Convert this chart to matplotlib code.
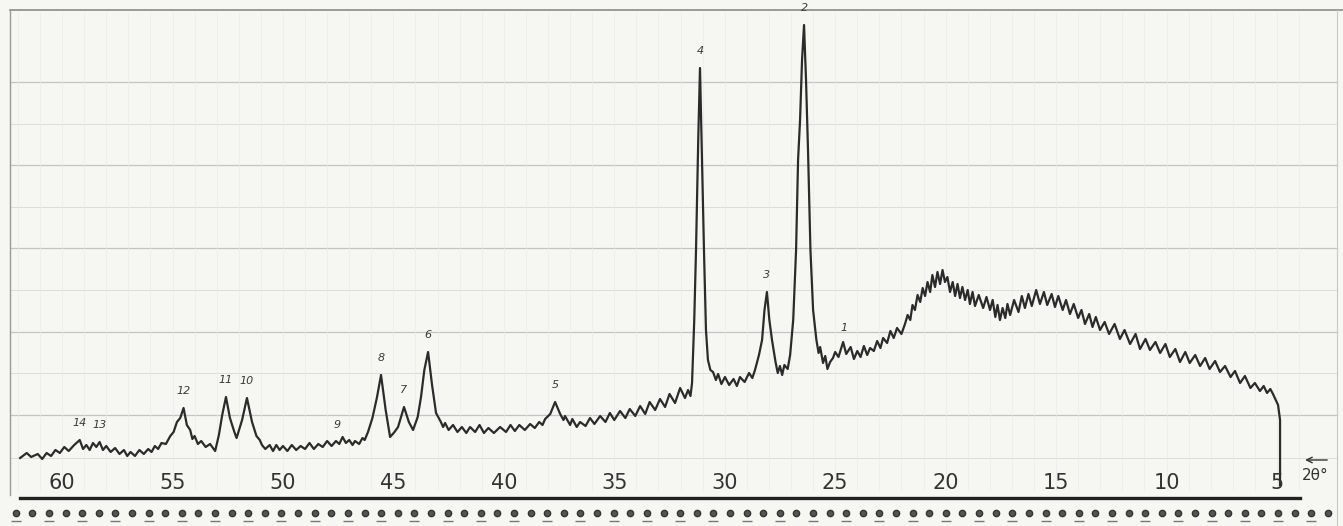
import numpy as np
import matplotlib.pyplot as plt

# diffractogram trace: (2theta in degrees, intensity in arbitrary units)
trace = [
    (61.9, 22), (61.6, 27), (61.4, 23), (61.1, 26), (60.9, 21), (60.7, 27), (60.5, 24),
    (60.3, 30), (60.1, 27), (59.9, 33), (59.7, 29), (59.45, 35), (59.2, 40), (59.05, 31),
    (58.9, 35), (58.75, 30), (58.6, 37), (58.45, 33), (58.3, 38), (58.15, 30), (58.0, 34),
    (57.8, 28), (57.6, 32), (57.4, 26), (57.2, 30), (57.05, 24), (56.9, 28), (56.7, 24),
    (56.5, 30), (56.3, 26), (56.1, 31), (55.95, 28), (55.8, 34), (55.65, 31), (55.5, 37),
    (55.3, 36), (55.1, 44), (54.95, 48), (54.8, 58), (54.65, 62), (54.5, 72), (54.35, 55),
    (54.2, 50), (54.1, 41), (54.0, 44), (53.85, 36), (53.7, 39), (53.5, 33), (53.3, 36),
    (53.07, 29), (52.9, 45), (52.75, 65), (52.58, 83), (52.4, 62), (52.2, 48), (52.1, 42),
    (52.03, 47), (51.85, 60), (51.63, 82), (51.4, 58), (51.2, 44), (51.05, 40), (50.95, 35),
    (50.8, 31), (50.6, 35), (50.45, 29), (50.3, 35), (50.15, 30), (50.0, 34), (49.8, 29),
    (49.6, 35), (49.4, 30), (49.2, 34), (49.0, 31), (48.8, 37), (48.6, 31), (48.4, 36),
    (48.2, 33), (48.0, 39), (47.8, 34), (47.6, 39), (47.45, 36), (47.3, 43), (47.15, 37),
    (47.0, 40), (46.85, 35), (46.74, 39), (46.55, 36), (46.4, 42), (46.3, 40), (46.15, 48),
    (45.95, 62), (45.75, 82), (45.56, 105), (45.35, 70), (45.15, 43), (44.95, 48),
    (44.79, 53), (44.52, 73), (44.3, 58), (44.11, 50), (43.9, 63), (43.75, 83), (43.6, 110),
    (43.43, 128), (43.25, 95), (43.07, 67), (42.85, 58), (42.75, 53), (42.66, 57),
    (42.5, 50), (42.3, 55), (42.1, 48), (41.9, 53), (41.7, 47), (41.53, 53), (41.3, 48),
    (41.1, 55), (40.9, 47), (40.7, 52), (40.45, 47), (40.17, 53), (39.9, 48), (39.7, 55),
    (39.5, 49), (39.3, 55), (39.05, 50), (38.81, 56), (38.6, 52), (38.4, 58), (38.25, 55),
    (38.13, 61), (37.9, 66), (37.68, 78), (37.45, 66), (37.3, 60), (37.23, 64), (37.0, 55),
    (36.9, 61), (36.7, 53), (36.55, 58), (36.3, 54), (36.1, 62), (35.9, 56), (35.64, 64),
    (35.4, 58), (35.2, 67), (35.0, 60), (34.74, 69), (34.5, 62), (34.3, 71), (34.05, 64),
    (33.83, 74), (33.6, 66), (33.4, 78), (33.15, 70), (32.93, 81), (32.7, 73), (32.5, 86),
    (32.25, 77), (32.02, 92), (31.8, 82), (31.66, 90), (31.55, 84), (31.48, 97),
    (31.38, 160), (31.3, 230), (31.2, 340), (31.12, 412), (31.04, 330), (30.94, 230),
    (30.85, 150), (30.76, 120), (30.65, 110), (30.53, 108), (30.4, 100), (30.3, 106),
    (30.15, 96), (29.99, 103), (29.8, 95), (29.6, 101), (29.45, 94), (29.31, 103),
    (29.1, 98), (28.9, 107), (28.75, 102), (28.63, 110), (28.45, 125), (28.31, 140),
    (28.2, 170), (28.09, 188), (27.98, 160), (27.86, 140), (27.7, 118), (27.6, 107),
    (27.5, 114), (27.4, 105), (27.3, 115), (27.15, 111), (27.04, 125), (26.9, 160),
    (26.77, 230), (26.68, 320), (26.59, 360), (26.5, 420), (26.41, 455), (26.32, 400),
    (26.23, 330), (26.12, 230), (26.0, 170), (25.85, 140), (25.75, 127), (25.68, 133),
    (25.55, 117), (25.45, 124), (25.35, 111), (25.23, 118), (25.1, 122), (25.0, 128),
    (24.85, 123), (24.64, 138), (24.5, 126), (24.3, 133), (24.15, 121), (24.0, 129),
    (23.85, 123), (23.7, 134), (23.55, 125), (23.42, 132), (23.25, 129), (23.1, 139),
    (22.95, 132), (22.83, 142), (22.65, 137), (22.5, 149), (22.35, 142), (22.2, 152),
    (22.0, 146), (21.84, 156), (21.72, 165), (21.6, 160), (21.5, 175), (21.39, 170),
    (21.27, 185), (21.15, 178), (21.04, 192), (20.93, 184), (20.82, 198), (20.7, 188),
    (20.6, 205), (20.48, 193), (20.37, 208), (20.25, 196), (20.14, 210), (20.03, 198),
    (19.92, 203), (19.8, 188), (19.68, 198), (19.57, 184), (19.46, 196), (19.35, 182),
    (19.24, 193), (19.12, 180), (19.0, 190), (18.9, 176), (18.78, 188), (18.67, 174),
    (18.5, 185), (18.3, 172), (18.15, 183), (17.99, 170), (17.87, 180), (17.75, 163),
    (17.65, 175), (17.54, 160), (17.42, 172), (17.3, 162), (17.2, 176), (17.08, 165),
    (16.9, 180), (16.7, 168), (16.55, 184), (16.41, 172), (16.25, 186), (16.1, 174),
    (15.9, 190), (15.73, 176), (15.55, 188), (15.4, 175), (15.2, 186), (15.05, 173),
    (14.9, 184), (14.7, 170), (14.55, 180), (14.37, 166), (14.2, 176), (14.0, 162),
    (13.85, 170), (13.69, 156), (13.5, 166), (13.35, 153), (13.2, 163), (13.01, 150),
    (12.8, 158), (12.6, 146), (12.35, 156), (12.11, 141), (11.9, 150), (11.65, 136),
    (11.4, 146), (11.2, 131), (10.95, 141), (10.75, 130), (10.5, 138), (10.29, 127),
    (10.05, 136), (9.85, 123), (9.6, 131), (9.39, 118), (9.15, 128), (8.95, 117),
    (8.7, 125), (8.48, 114), (8.25, 122), (8.05, 111), (7.8, 119), (7.58, 108),
    (7.35, 114), (7.1, 103), (6.9, 109), (6.67, 97), (6.45, 104), (6.2, 92), (6.0, 97),
    (5.77, 89), (5.6, 94), (5.45, 87), (5.3, 91), (5.18, 86), (4.95, 75), (4.86, 60),
    (4.86, -5),
]
two_theta = [p[0] for p in trace]
intensity = [p[1] for p in trace]

# numbered reflections
peak_no = ["14", "13", "12", "11", "10", "9", "8", "7", "6", "5", "4", "3", "2", "1"]
peak_pos = [59.2, 58.3, 54.5, 52.58, 51.63, 47.55, 45.56, 44.52, 43.43, 37.68, 31.12, 28.09, 26.41, 24.6]

tick_vals = [60, 55, 50, 45, 40, 35, 30, 25, 20, 15, 10, 5]

paper = "#f6f6f3"
ink = "#2b2b2b"

fig = plt.figure(figsize=(13.43, 5.26), dpi=100, facecolor=paper)
ax = fig.add_axes([0, 0, 1, 1])
ax.set_facecolor(paper)
ax.set_xlim(62.81, 2.01)
ax.set_ylim(-46, 480)
ax.axis("off")

# chart paper grid
for yy in [398, 315, 232, 148, 65]:
    ax.plot([62.3, 2.3], [yy, yy], color="#c4c4c4", lw=0.9, zorder=1)
for yy in [356, 273, 190, 107, 22]:
    ax.plot([62.3, 2.3], [yy, yy], color="#dcdcdc", lw=0.7, zorder=1)
for xx in np.arange(62, 3, -1.0):
    ax.plot([xx, xx], [-10, 468], color="#ebebeb", lw=0.5, zorder=1)

# frame
ax.plot([62.35, 2.01], [470, 470], color="#8a8a8a", lw=1.2, zorder=2)
ax.plot([62.35, 62.35], [470, -15], color="#9a9a9a", lw=1.0, zorder=2)
ax.plot([2.3, 2.3], [470, -46], color="#c8c8c8", lw=0.8, zorder=2)
ax.plot([61.9, 3.96], [-18, -18], color="#222222", lw=2.4, zorder=3)

# perforation strip
holes = np.arange(62.1, 2.2, -0.752)
ax.plot(holes, np.full(len(holes), -33), "o", ms=4.5, color="#555555", mec="#333333", zorder=3)
ax.plot(holes[::2], np.full(len(holes[::2]), -41), "_", ms=7, color="#777777", zorder=3)

# trace
ax.plot(two_theta, intensity, color=ink, lw=1.6, zorder=4)

# peak numbers
lab_y = np.interp(peak_pos, two_theta[::-1], intensity[::-1])
for n, p, h in zip(peak_no, peak_pos, lab_y):
    ax.text(p, h + 12, n, ha="center", va="bottom", fontsize=8, style="italic",
            color="#3a3a3a", zorder=5)

# axis labels written on the chart
for t in tick_vals:
    ax.text(t, -3, str(t), ha="center", va="center", fontsize=15, color="#333333",
            family="DejaVu Sans", zorder=5)
ax.text(3.25, 5, "2θ°", ha="center", va="center", fontsize=11, color="#333333", zorder=5)
ax.annotate("", xy=(3.85, 20), xytext=(2.6, 20),
            arrowprops=dict(arrowstyle="->", color="#333333", lw=1.0))

fig.savefig("out.png", dpi=100, facecolor=paper)
